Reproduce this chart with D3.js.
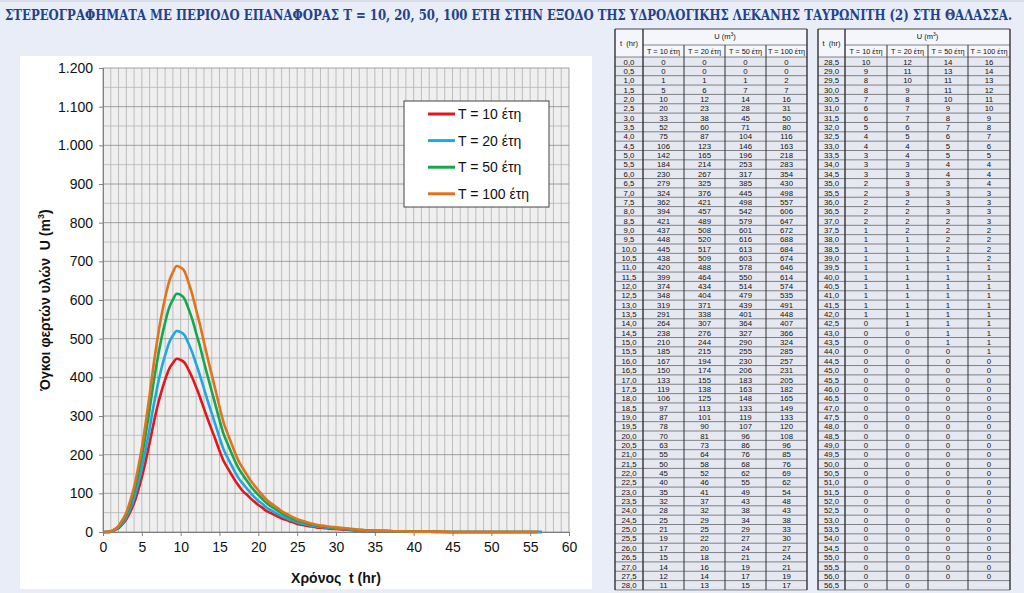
<!DOCTYPE html>
<html><head><meta charset="utf-8">
<script src="https://cdn.jsdelivr.net/npm/d3@7"></script>
<style>body{margin:0;background:#e9edf8;overflow:hidden}svg{display:block}</style>
</head><body>
<script>
const tHours=[0,0.5,1,1.5,2,2.5,3,3.5,4,4.5,5,5.5,6,6.5,7,7.5,8,8.5,9,9.5,10,10.5,11,11.5,12,12.5,13,13.5,14,14.5,15,15.5,16,16.5,17,17.5,18,18.5,19,19.5,20,20.5,21,21.5,22,22.5,23,23.5,24,24.5,25,25.5,26,26.5,27,27.5,28,
28.5,29,29.5,30,30.5,31,31.5,32,32.5,33,33.5,34,34.5,35,35.5,36,36.5,37,37.5,38,38.5,39,39.5,40,40.5,41,41.5,42,42.5,43,43.5,44,44.5,45,45.5,46,46.5,47,47.5,48,48.5,49,49.5,50,50.5,51,51.5,52,52.5,53,53.5,54,54.5,55,55.5,56,56.5];
const u10=[0,0,1,5,10,20,33,52,75,106,142,184,230,279,324,362,394,421,437,448,445,438,420,399,374,348,319,291,264,238,210,185,167,150,133,119,106,97,87,78,70,63,55,50,45,40,35,32,28,25,21,19,17,15,14,12,11,
10,9,8,8,7,6,6,5,4,4,3,3,3,2,2,2,2,2,1,1,1,1,1,1,1,1,1,1,0,0,0,0,0,0,0,0,0,0,0,0,0,0,0,0,0,0,0,0,0,0,0,0,0,0,0,0,0];
const u20=[0,0,1,6,12,23,38,60,87,123,165,214,267,325,376,421,457,489,508,520,517,509,488,464,434,404,371,338,307,276,244,215,194,174,155,138,125,113,101,90,81,73,64,58,52,46,41,37,32,29,25,22,20,18,16,14,13,
12,11,10,9,8,7,7,6,5,4,4,3,3,3,3,2,2,2,2,1,1,1,1,1,1,1,1,1,1,0,0,0,0,0,0,0,0,0,0,0,0,0,0,0,0,0,0,0,0,0,0,0,0,0,0,0,0];
const u50=[0,0,1,7,14,28,45,71,104,146,196,253,317,385,445,498,542,579,601,616,613,603,578,550,514,479,439,401,364,327,290,255,230,206,183,163,148,133,119,107,96,86,76,68,62,55,49,43,38,34,29,27,24,21,19,17,15,
14,13,11,11,10,9,8,7,6,5,5,4,4,3,3,3,3,2,2,2,2,1,1,1,1,1,1,1,1,1,1,0,0,0,0,0,0,0,0,0,0,0,0,0,0,0,0,0,0,0,0,0,0,0,0,0];
const u100=[0,0,2,7,16,31,50,80,116,163,218,283,354,430,498,557,606,647,672,688,684,674,646,614,574,535,491,448,407,366,324,285,257,231,205,182,165,149,133,120,108,96,85,76,69,62,54,48,43,38,33,30,27,24,21,19,17,
16,14,13,12,11,10,9,8,7,6,5,4,4,4,3,3,3,3,2,2,2,2,1,1,1,1,1,1,1,1,1,1,0,0,0,0,0,0,0,0,0,0,0,0,0,0,0,0,0,0,0,0,0,0,0,0];
const seriesNames=["T = 10 έτη","T = 20 έτη","T = 50 έτη","T = 100 έτη"];
const seriesColors=["#e3161c","#1fa8e0","#14a84b","#e2731e"];
const seriesValues=[u10,u20,u50,u100];
const xTicks=[0,5,10,15,20,25,30,35,40,45,50,55,60];
const yTicks=[0,100,200,300,400,500,600,700,800,900,1000,1100,1200];
const titleText="ΣΤΕΡΕΟΓΡΑΦΗΜΑΤΑ ΜΕ ΠΕΡΙΟΔΟ ΕΠΑΝΑΦΟΡΑΣ Τ = 10, 20, 50, 100 ΕΤΗ ΣΤΗΝ ΕΞΟΔΟ ΤΗΣ ΥΔΡΟΛΟΓΙΚΗΣ ΛΕΚΑΝΗΣ ΤΑΥΡΩΝΙΤΗ (2) ΣΤΗ ΘΑΛΑΣΣΑ.";

const W=1024,H=593;
const loc=d3.formatLocale({decimal:",",thousands:".",grouping:[3],currency:["","€"]});
const fmtY=loc.format(",d");
const fmtT=loc.format(".1f");
const svg=d3.select("body").append("svg").attr("width",W).attr("height",H);
svg.append("rect").attr("width",W).attr("height",H).attr("fill","#e9edf8");
svg.append("line").attr("x1",0).attr("x2",W).attr("y1",1).attr("y2",1).attr("stroke","#c8ccd6");
const title=svg.append("text").attr("x",0).attr("y",0).attr("font-family","'DejaVu Serif Condensed','DejaVu Serif',serif")
  .attr("font-weight","bold").attr("font-size",15.5).attr("fill","#24428a").text(titleText);
const natW=title.node().getComputedTextLength();
const sx=Math.min(1,1008/natW);
title.attr("transform",`translate(5,20) scale(${sx},1)`);

// chart panel
svg.append("rect").attr("x",20).attr("y",56).attr("width",572).attr("height",533).attr("fill","#ffffff");
const x=d3.scaleLinear().domain([0,60]).range([103,569]);
const y=d3.scaleLinear().domain([0,1200]).range([532,68]);
const g=svg.append("g");
g.append("rect").attr("x",x(0)).attr("y",y(1200)).attr("width",x(60)-x(0)).attr("height",y(0)-y(1200)).attr("fill","#efefef");
// grid
g.append("g").selectAll("line").data(d3.range(1,60)).join("line")
  .attr("x1",d=>x(d)).attr("x2",d=>x(d)).attr("y1",y(0)).attr("y2",y(1200))
  .attr("stroke","#a8a8a8").attr("stroke-width",0.7);
g.append("g").selectAll("line").data(d3.range(50,1200,50)).join("line")
  .attr("y1",d=>y(d)).attr("y2",d=>y(d)).attr("x1",x(0)).attr("x2",x(60))
  .attr("stroke",d=>d%100===0?"#8c8c8c":"#b4b4b4").attr("stroke-width",0.8);
g.append("rect").attr("x",x(0)).attr("y",y(1200)).attr("width",x(60)-x(0)).attr("height",y(0)-y(1200))
  .attr("fill","none").attr("stroke","#8c8c8c").attr("stroke-width",0.8);
// axes
const yAx=g.append("g").attr("transform",`translate(${x(0)},0)`)
  .call(d3.axisLeft(y).tickValues(yTicks).tickFormat(fmtY).tickSize(4).tickPadding(6));
const xAx=g.append("g").attr("transform",`translate(0,${y(0)})`)
  .call(d3.axisBottom(x).tickValues(xTicks).tickSize(4).tickPadding(6));
[yAx,xAx].forEach(a=>{a.select(".domain").attr("stroke","#808080");a.selectAll(".tick line").attr("stroke","#808080");
  a.selectAll("text").attr("font-family","Arial,'Liberation Sans',sans-serif").attr("font-size",14).attr("fill","#111");});
// lines
const line=d3.line().x((d,i)=>x(tHours[i])).y(d=>y(d)).curve(d3.curveMonotoneX);
seriesValues.forEach((s,k)=>{
  g.append("path").datum(s).attr("d",line).attr("fill","none").attr("stroke",seriesColors[k]).attr("stroke-width",2.6).attr("stroke-linejoin","round");
});
// axis titles
svg.append("text").attr("x",336).attr("y",583).attr("text-anchor","middle")
  .attr("font-family","Arial,'Liberation Sans',sans-serif").attr("font-weight","bold").attr("font-size",14).attr("fill","#111")
  .text("Χρόνος\u00a0 t (hr)");
const yt=svg.append("text").attr("transform","translate(50,300) rotate(-90)").attr("text-anchor","middle")
  .attr("font-family","Arial,'Liberation Sans',sans-serif").attr("font-weight","bold").attr("font-size",14).attr("fill","#111");
yt.append("tspan").text("Όγκοι φερτών υλών\u00a0 U (m");
yt.append("tspan").attr("font-size",9).attr("dy",-6).text("3");
yt.append("tspan").attr("dy",6).text(")");
// legend
const lg=svg.append("g");
lg.append("rect").attr("x",404).attr("y",101).attr("width",145).attr("height",106).attr("fill","#fff").attr("stroke","#444").attr("stroke-width",1);
seriesNames.forEach((n,k)=>{
  const yy=114+k*26.6;
  lg.append("line").attr("x1",428).attr("x2",455).attr("y1",yy).attr("y2",yy).attr("stroke",seriesColors[k]).attr("stroke-width",3);
  lg.append("text").attr("x",458).attr("y",yy+5).attr("font-family","Arial,'Liberation Sans',sans-serif").attr("font-size",14).attr("fill","#111").text(n);
});

// tables
function drawTable(cols,start,end){
  const tg=svg.append("g");
  const y0=29,y1=45,y2=57,rh=9.35;
  const n=end-start;
  const yb=y2+n*rh;
  const f="Arial,'Liberation Sans',sans-serif";
  tg.append("rect").attr("x",cols[0]).attr("y",y0).attr("width",cols[5]-cols[0]).attr("height",y2-y0).attr("fill","#f4f6fb");
  tg.append("rect").attr("x",cols[0]).attr("y",y2).attr("width",cols[5]-cols[0]).attr("height",yb-y2).attr("fill","#e5e8f1");
  for(let i=0;i<=n;i++){
    tg.append("line").attr("x1",cols[0]).attr("x2",cols[5]).attr("y1",y2+i*rh).attr("y2",y2+i*rh).attr("stroke","#555").attr("stroke-width",0.7);
  }
  tg.append("line").attr("x1",cols[1]).attr("x2",cols[5]).attr("y1",y1).attr("y2",y1).attr("stroke","#555").attr("stroke-width",0.7);
  tg.append("line").attr("x1",cols[0]).attr("x2",cols[5]).attr("y1",y0).attr("y2",y0).attr("stroke","#444").attr("stroke-width",1);
  cols.forEach((c,j)=>{
    const top=(j===2||j===3||j===4)?y1:y0;
    tg.append("line").attr("x1",c).attr("x2",c).attr("y1",top).attr("y2",yb).attr("stroke","#333").attr("stroke-width",(j===0||j===1||j===5)?1.4:1);
  });
  tg.append("text").attr("x",(cols[0]+cols[1])/2).attr("y",(y0+y2)/2+3).attr("text-anchor","middle").attr("font-family",f).attr("font-size",7.5).attr("fill","#111").text("t\u00a0 (hr)");
  const uh=tg.append("text").attr("x",(cols[1]+cols[5])/2).attr("y",y0+10).attr("text-anchor","middle").attr("font-family",f).attr("font-size",7.5).attr("fill","#111");
  uh.append("tspan").text("U (m");uh.append("tspan").attr("font-size",5).attr("dy",-3).text("3");uh.append("tspan").attr("dy",3).text(")");
  seriesNames.forEach((s,k)=>{
    tg.append("text").attr("x",(cols[k+1]+cols[k+2])/2).attr("y",y1+9).attr("text-anchor","middle").attr("font-family",f).attr("font-size",7.3).attr("fill","#111").text(s);
  });
  for(let i=start;i<end;i++){
    const yy=y2+(i-start)*rh+7.6;
    tg.append("text").attr("x",(cols[0]+cols[1])/2).attr("y",yy).attr("text-anchor","middle").attr("font-family",f).attr("font-size",7.8).attr("fill","#111").text(fmtT(tHours[i]));
    seriesValues.forEach((s,k)=>{
      tg.append("text").attr("x",(cols[k+1]+cols[k+2])/2).attr("y",yy).attr("text-anchor","middle").attr("font-family",f).attr("font-size",7.8).attr("fill","#111").text(s[i]);
    });
  }
}
drawTable([615,643,684,725,766,807],0,57);
drawTable([818,845,887,928,968,1010],57,114);
</script>
</body></html>
